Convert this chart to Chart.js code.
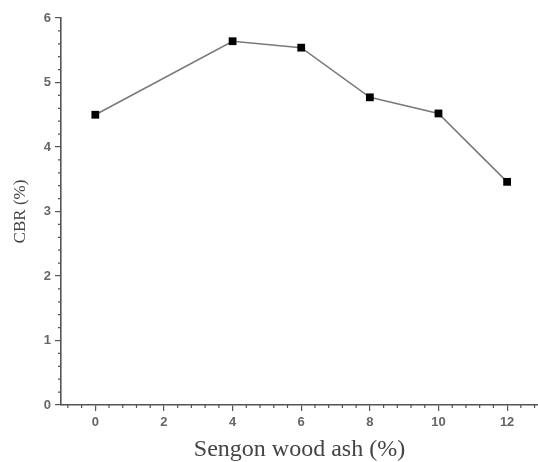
<!DOCTYPE html>
<html>
<head>
<meta charset="utf-8">
<script src="https://cdn.jsdelivr.net/npm/chart.js@4.4.1/dist/chart.umd.min.js"></script>
<style>
  html, body { margin: 0; padding: 0; background: #fff; }
  #wrap { width: 538px; height: 462px; position: relative; }
</style>
</head>
<body>
<div id="wrap"><canvas id="c"></canvas></div>
<script>
// Datos
const ashPercent = [0, 4, 6, 8, 10, 12];
const cbrValues = [4.50, 5.64, 5.54, 4.77, 4.52, 3.46];
const xTickValues = [0, 2, 4, 6, 8, 10, 12];
const yTickValues = [0, 1, 2, 3, 4, 5, 6];

const axisColor = '#555';

// Dibuja las marcas menores de los ejes
const minorTicks = {
  id: 'minorTicks',
  afterDraw(chart) {
    const ctx = chart.ctx;
    const x = chart.scales.x;
    const y = chart.scales.y;
    ctx.save();
    ctx.strokeStyle = axisColor;
    ctx.lineWidth = 1.2;
    ctx.beginPath();
    for (let v = -0.8; v < 13; v += 0.4) {
      if (Math.abs(v / 2 - Math.round(v / 2)) < 0.01) continue;
      const px = x.getPixelForValue(v);
      if (px > chart.chartArea.right) break;
      ctx.moveTo(px, x.top);
      ctx.lineTo(px, x.top + 3);
    }
    for (let v = 0.2; v < 6; v += 0.2) {
      if (Math.abs(v - Math.round(v)) < 0.01) continue;
      const py = y.getPixelForValue(v);
      ctx.moveTo(y.right - 3, py);
      ctx.lineTo(y.right, py);
    }
    ctx.stroke();
    ctx.restore();
  }
};

new Chart(document.getElementById('c'), {
  type: 'line',
  data: {
    datasets: [{
      data: ashPercent.map((v, i) => ({ x: v, y: cbrValues[i] })),
      borderColor: '#7a7a7a',
      borderWidth: 1.6,
      pointStyle: 'rect',
      pointRadius: 5.5,
      pointBackgroundColor: '#000',
      pointBorderColor: '#000',
      pointBorderWidth: 0,
      tension: 0,
      clip: false
    }]
  },
  options: {
    responsive: true,
    maintainAspectRatio: false,
    animation: false,
    layout: { autoPadding: false, padding: { top: 18, right: 0 } },
    plugins: {
      legend: { display: false },
      tooltip: { enabled: false }
    },
    scales: {
      x: {
        type: 'linear',
        min: -1,
        max: 12.9,
        afterBuildTicks: s => { s.ticks = xTickValues.map(v => ({ value: v })); },
        afterFit: s => { s.height = 57; },
        border: { display: true, color: axisColor, width: 1.6 },
        grid: { drawOnChartArea: false, drawTicks: true, tickLength: 6, color: axisColor, lineWidth: 1.2 },
        ticks: {
          color: '#666',
          padding: 4,
          font: { family: 'Arial, "Liberation Sans", sans-serif', size: 13, weight: 'bold' }
        },
        title: {
          display: true,
          text: 'Sengon wood ash (%)',
          color: '#444',
          padding: { top: 0, bottom: -2 },
          font: { family: '"Times New Roman", "Liberation Serif", serif', size: 24 }
        }
      },
      y: {
        type: 'linear',
        min: 0,
        max: 6,
        afterBuildTicks: s => { s.ticks = yTickValues.map(v => ({ value: v })); },
        afterFit: s => { s.width = 61; },
        border: { display: true, color: axisColor, width: 1.6 },
        grid: { drawOnChartArea: false, drawTicks: true, tickLength: 6, color: axisColor, lineWidth: 1.2 },
        ticks: {
          color: '#666',
          padding: 4,
          font: { family: 'Arial, "Liberation Sans", sans-serif', size: 13, weight: 'bold' }
        },
        title: {
          display: true,
          text: 'CBR (%)',
          color: '#444',
          padding: { top: 10, bottom: 0 },
          font: { family: '"Times New Roman", "Liberation Serif", serif', size: 17 }
        }
      }
    }
  },
  plugins: [minorTicks]
});
</script>
</body>
</html>
